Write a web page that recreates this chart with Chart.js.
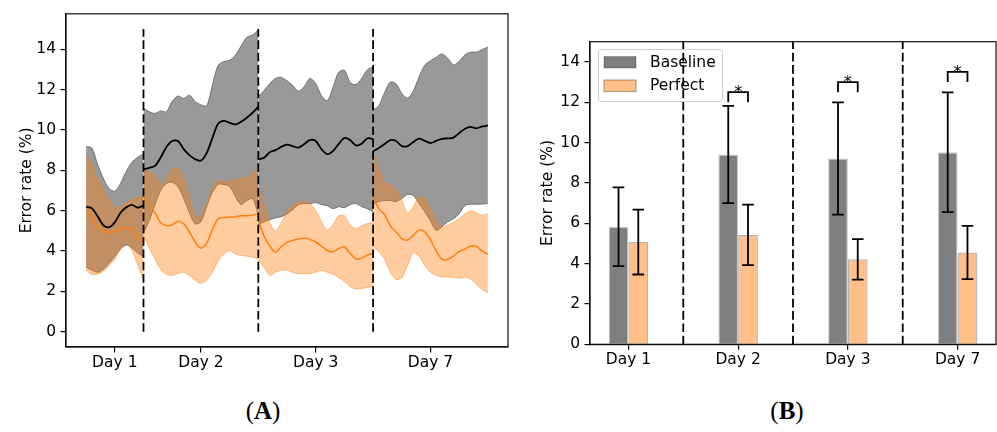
<!DOCTYPE html>
<html>
<head>
  <meta charset="UTF-8" />
  <title>Error rate per day</title>
  <script src="https://cdn.jsdelivr.net/npm/chart.js@4.4.0/dist/chart.umd.min.js"></script>
  <style>
    body{margin:0;background:#fff}
    #page{position:relative;width:997px;height:432px;overflow:hidden;background:#fff}
    #wrapA{position:absolute;left:0;top:0}
    #wrapB{position:absolute;left:520px;top:0}
    canvas{display:block}
    .tag{position:absolute;top:396px;width:100px;text-align:center;font-family:"Liberation Serif",serif;font-size:25px;line-height:30px;color:#000}
  </style>
</head>
<body>
<div id="page">
  <div id="wrapA"><canvas id="chartA" width="520" height="385"></canvas></div>
  <div id="wrapB"><canvas id="chartB" width="477" height="385"></canvas></div>
  <div class="tag" style="left:213px">(<b>A</b>)</div>
  <div class="tag" style="left:737px">(<b>B</b>)</div>
</div>
<script>
const dayLabels = ['Day 1', 'Day 2', 'Day 3', 'Day 7'];
const yTicks = [0, 2, 4, 6, 8, 10, 12, 14];

// (A) smoothed error rate over each session, one row per day block
const dayStart = [0, 0.5, 1.5, 2.5];   // left edge of every block on the x axis
const sampleStep = 0.05;
const dayCentres = [0.25, 1, 2, 3];
const dayEdges = [0.5, 1.5, 2.5];
const edgeTop = 15;

const baseMean = [
  [6.19, 6.12, 5.72, 5.28, 5.18, 5.42, 5.9, 6.17, 6.29, 6.15, 6.25],
  [8.05, 8.12, 8.22, 8.63, 9.15, 9.45, 9.45, 9.05, 8.75, 8.55, 8.48, 8.85, 9.6, 10.3, 10.45, 10.35, 10.27, 10.4, 10.6, 10.85, 11.15],
  [8.55, 8.62, 8.9, 9.0, 9.16, 9.27, 9.2, 9.12, 9.3, 9.5, 9.45, 9.05, 8.8, 8.95, 9.3, 9.6, 9.5, 9.23, 9.32, 9.58, 9.56],
  [8.94, 9.1, 9.3, 9.5, 9.45, 9.2, 9.2, 9.4, 9.57, 9.46, 9.35, 9.46, 9.56, 9.58, 9.62, 9.84, 10.06, 10.15, 10.08, 10.17, 10.22]
];
const baseUpper = [
  [9.18, 9.1, 8.3, 7.6, 7.1, 6.97, 7.35, 7.95, 8.4, 8.65, 8.8],
  [11.07, 10.9, 10.82, 10.94, 10.9, 11.42, 11.68, 11.56, 11.72, 11.4, 11.24, 11.2, 12.2, 13.2, 13.38, 13.45, 13.7, 14.15, 14.59, 14.7, 14.95],
  [11.64, 11.95, 12.3, 12.55, 12.6, 12.43, 12.2, 11.92, 12.15, 12.55, 12.3, 11.7, 11.45, 12.1, 12.85, 12.95, 12.35, 12.25, 12.54, 12.98, 13.12],
  [10.99, 11.2, 11.85, 12.37, 12.28, 11.8, 11.58, 11.92, 12.62, 13.2, 13.42, 13.6, 13.76, 13.55, 13.22, 13.4, 13.72, 13.85, 13.85, 13.98, 14.1]
];
const baseLower = [
  [3.2, 3.05, 2.95, 3.1, 3.4, 3.75, 4.1, 4.3, 4.15, 3.9, 3.7],
  [4.9, 5.5, 6.3, 7.0, 7.35, 7.4, 7.2, 6.6, 5.9, 5.35, 5.45, 6.2, 6.9, 7.3, 7.3, 7.2, 6.7, 6.3, 6.5, 6.6, 5.8],
  [5.3, 5.45, 5.55, 5.65, 5.7, 5.85, 6.05, 6.3, 6.35, 6.35, 6.4, 6.3, 6.25, 6.1, 6.2, 6.15, 6.3, 6.35, 6.2, 6.1, 5.95],
  [6.3, 6.45, 6.5, 6.5, 6.45, 6.6, 6.8, 6.75, 6.35, 5.95, 5.5, 5.02, 5.2, 5.45, 5.6, 5.85, 6.25, 6.32, 6.32, 6.33, 6.35]
];
const perfMean = [
  [6.07, 5.65, 5.2, 5.0, 4.93, 4.97, 5.12, 5.15, 5.08, 4.65, 4.38],
  [6.65, 6.35, 5.9, 5.4, 5.26, 5.3, 5.48, 5.35, 4.95, 4.45, 4.15, 4.4, 5.05, 5.6, 5.66, 5.68, 5.7, 5.75, 5.75, 5.78, 5.85],
  [5.6, 4.75, 4.25, 3.95, 4.22, 4.43, 4.53, 4.6, 4.65, 4.58, 4.45, 4.25, 4.03, 3.97, 4.13, 4.2, 3.88, 3.62, 3.65, 3.8, 3.9],
  [6.65, 6.1, 5.8, 5.25, 4.95, 4.62, 4.55, 4.78, 5.05, 4.95, 4.55, 4.0, 3.6, 3.58, 3.75, 3.98, 4.1, 4.25, 4.23, 4.0, 3.83]
];
const perfUpper = [
  [8.78, 8.25, 7.6, 7.0, 6.5, 6.15, 6.22, 6.4, 6.55, 6.65, 6.73],
  [8.05, 7.95, 7.7, 7.3, 7.55, 8.05, 8.1, 7.6, 6.6, 5.7, 5.75, 6.35, 7.1, 7.5, 7.42, 7.45, 7.55, 7.55, 7.65, 7.85, 8.05],
  [7.2, 6.3, 5.4, 5.0, 5.4, 5.9, 6.25, 6.4, 6.48, 6.35, 6.0, 5.45, 5.05, 5.3, 5.75, 5.75, 5.3, 5.1, 5.25, 5.36, 5.42],
  [8.86, 7.95, 7.42, 7.28, 7.0, 6.5, 5.9, 6.2, 6.7, 6.55, 6.05, 5.5, 5.15, 5.3, 5.42, 5.6, 5.85, 6.0, 5.9, 5.78, 5.83]
];
const perfLower = [
  [3.05, 2.85, 2.85, 3.0, 3.3, 3.6, 4.1, 4.4, 4.0, 3.3, 2.6],
  [4.76, 4.15, 3.6, 3.1, 2.85, 2.8, 2.9, 2.95, 2.78, 2.55, 2.4, 2.55, 2.95, 3.5, 3.85, 4.03, 3.85, 3.78, 3.75, 3.7, 3.6],
  [3.55, 3.2, 2.8, 2.95, 3.05, 3.05, 2.95, 2.88, 2.88, 2.88, 2.95, 3.05, 2.95, 2.85, 2.68, 2.5, 2.25, 2.12, 2.15, 2.2, 2.25],
  [4.27, 3.95, 3.6, 2.95, 2.6, 2.68, 3.3, 3.9, 3.75, 3.3, 2.95, 2.8, 2.72, 2.72, 2.7, 2.66, 2.7, 2.62, 2.35, 2.1, 1.95]
];

// (B) mean error rate per day with standard deviation
const dayIndex = [0, 1, 2, 3];
const baseBar = [5.83, 9.41, 9.21, 9.52];
const baseSd = [1.95, 2.41, 2.78, 2.97];
const perfBar = [5.07, 5.42, 4.21, 4.55];
const perfSd = [1.61, 1.5, 1.0, 1.32];
const sigLow = [null, 12, 12.5, 13];
const sigHigh = [null, 12.5, 13, 13.5];

Chart.defaults.font.family = '"DejaVu Sans", sans-serif';
Chart.defaults.font.size = 15.5;
Chart.defaults.color = '#000';

const GRAY_FILL = 'rgba(128,128,128,0.8)';
const GRAY_EDGE = 'rgba(100,100,100,0.85)';
const ORANGE = '#ff7f0e';
const ORANGE_FILL = 'rgba(255,127,14,0.4)';
const ORANGE_EDGE = 'rgba(255,127,14,0.45)';

function pts(vals, d) {
  return vals.map((v, i) => ({ x: dayStart[d] + i * sampleStep, y: v }));
}

function line(data, extra) {
  return Object.assign({ type: 'line', data, pointRadius: 0, tension: 0.3, fill: false, borderJoinStyle: 'round' }, extra);
}

function dashed(x) {
  return line([{ x, y: 0 }, { x, y: edgeTop }], { borderColor: '#000', borderWidth: 1.8, borderDash: [8.6, 3.7], tension: 0, order: 5 });
}

// spines on all four sides
const framePlugin = {
  id: 'frame',
  afterDatasetsDraw(chart) {
    const { ctx, chartArea: a } = chart;
    ctx.save();
    ctx.strokeStyle = '#111';
    ctx.lineWidth = 1.2;
    ctx.strokeRect(a.left, a.top, a.right - a.left, a.bottom - a.top);
    ctx.restore();
  }
};

function yAxis(min, max, width, titlePad) {
  return {
    min, max,
    afterBuildTicks: s => { s.ticks = yTicks.map(v => ({ value: v })); },
    afterFit: s => { s.width = width; },
    ticks: { padding: 4.5, color: '#000' },
    grid: { drawOnChartArea: false, tickLength: 5.5, color: '#000', lineWidth: 1.2 },
    border: { color: '#111', width: 1.2 },
    title: { display: true, text: 'Error rate (%)', color: '#000', padding: { top: titlePad, bottom: 0 } }
  };
}

function xAxis(min, max, at, height) {
  return {
    type: 'linear', min, max, offset: false,
    afterBuildTicks: s => { s.ticks = at.map(v => ({ value: v })); },
    afterFit: s => { s.height = height; },
    ticks: { callback: (v, i) => dayLabels[i], autoSkip: false, maxRotation: 0, padding: 1, color: '#000' },
    grid: { drawOnChartArea: false, offset: false, tickLength: 5.5, color: '#000', lineWidth: 1.2 },
    border: { color: '#111', width: 1.2 }
  };
}

// ---------- panel A ----------
const dsA = [];
for (let d = 0; d < dayStart.length; d++) {
  dsA.push(line(pts(baseUpper[d], d), { fill: '+1', backgroundColor: GRAY_FILL, borderColor: GRAY_EDGE, borderWidth: 1, order: 50 }));
  dsA.push(line(pts(baseLower[d], d), { borderColor: GRAY_EDGE, borderWidth: 1, order: 49 }));
}
for (let d = 0; d < dayStart.length; d++) {
  dsA.push(line(pts(perfUpper[d], d), { fill: '+1', backgroundColor: ORANGE_FILL, borderColor: ORANGE_EDGE, borderWidth: 1, order: 30 }));
  dsA.push(line(pts(perfLower[d], d), { borderColor: ORANGE_EDGE, borderWidth: 1, order: 29 }));
}
for (let d = 0; d < dayStart.length; d++) {
  dsA.push(line(pts(baseMean[d], d), { borderColor: '#000', borderWidth: 1.8, order: 20 }));
  dsA.push(line(pts(perfMean[d], d), { borderColor: ORANGE, borderWidth: 1.5, order: 15 }));
}
dayEdges.forEach(x => dsA.push(dashed(x)));

new Chart(document.getElementById('chartA'), {
  type: 'line',
  data: { datasets: dsA },
  options: {
    responsive: false, animation: false, events: [],
    layout: { padding: { top: 11, right: 12, left: 0, bottom: 0 } },
    plugins: { legend: { display: false }, tooltip: { enabled: false } },
    scales: {
      x: xAxis(-0.175, 3.675, dayCentres, 38),
      y: yAxis(-0.75, 15.75, 66, 17.7)
    }
  },
  plugins: [framePlugin]
});

// ---------- panel B ----------
const barOpts = { categoryPercentage: 0.36, barPercentage: 1, borderWidth: 1.2, order: 20 };
const dsB = [
  Object.assign({ type: 'bar', label: 'Baseline', data: dayIndex.map(i => ({ x: i, y: baseBar[i] })),
    backgroundColor: 'rgba(0,0,0,0.5)', borderColor: 'rgba(0,0,0,0.22)' }, barOpts),
  Object.assign({ type: 'bar', label: 'Perfect', data: dayIndex.map(i => ({ x: i, y: perfBar[i] })),
    backgroundColor: 'rgba(255,127,14,0.5)', borderColor: 'rgba(0,0,0,0.3)' }, barOpts)
];
dayEdges.forEach(x => dsB.push(dashed(x)));

const legendB = {
  id: 'legendB',
  beforeDatasetsDraw(chart) {
    const { ctx, chartArea: a } = chart;
    const x0 = a.left + 8.5, y0 = a.top + 7.8;
    ctx.save();
    ctx.beginPath();
    ctx.roundRect(x0, y0, 124, 52, 3);
    ctx.fillStyle = 'rgba(255,255,255,0.8)';
    ctx.fill();
    ctx.strokeStyle = '#cccccc';
    ctx.lineWidth = 1;
    ctx.stroke();
    chart.data.datasets.slice(0, 2).forEach((ds, i) => {
      const py = y0 + 7 + i * 23.5;
      ctx.fillStyle = '#fff';
      ctx.fillRect(x0 + 5.5, py, 32, 11.5);
      ctx.fillStyle = ds.backgroundColor;
      ctx.fillRect(x0 + 5.5, py, 32, 11.5);
      ctx.strokeStyle = ds.borderColor;
      ctx.lineWidth = 1.2;
      ctx.strokeRect(x0 + 5.5, py, 32, 11.5);
      ctx.fillStyle = '#000';
      ctx.font = '15.5px "DejaVu Sans", sans-serif';
      ctx.textBaseline = 'middle';
      ctx.fillText(ds.label, x0 + 51.5, py + 6);
    });
    ctx.restore();
  }
};

// standard deviation whiskers and significance brackets
const whiskers = {
  id: 'whiskers',
  afterDatasetsDraw(chart) {
    const { ctx } = chart;
    const ys = chart.scales.y;
    const spreads = [baseSd, perfSd];
    const means = [baseBar, perfBar];
    ctx.save();
    ctx.strokeStyle = '#000';
    ctx.lineWidth = 1.8;
    [0, 1].forEach(k => {
      chart.getDatasetMeta(k).data.forEach((bar, i) => {
        const hi = ys.getPixelForValue(means[k][i] + spreads[k][i]);
        const lo = ys.getPixelForValue(means[k][i] - spreads[k][i]);
        ctx.beginPath();
        ctx.moveTo(bar.x, hi); ctx.lineTo(bar.x, lo);
        ctx.moveTo(bar.x - 5.8, hi); ctx.lineTo(bar.x + 5.8, hi);
        ctx.moveTo(bar.x - 5.8, lo); ctx.lineTo(bar.x + 5.8, lo);
        ctx.stroke();
      });
    });
    const left = chart.getDatasetMeta(0).data, right = chart.getDatasetMeta(1).data;
    ctx.font = '16px "DejaVu Sans", sans-serif';
    ctx.textAlign = 'center';
    ctx.textBaseline = 'alphabetic';
    ctx.fillStyle = '#000';
    sigLow.forEach((low, i) => {
      if (low === null) return;
      const y1 = ys.getPixelForValue(low), y2 = ys.getPixelForValue(sigHigh[i]);
      ctx.beginPath();
      ctx.moveTo(left[i].x, y1); ctx.lineTo(left[i].x, y2);
      ctx.lineTo(right[i].x, y2); ctx.lineTo(right[i].x, y1);
      ctx.stroke();
      ctx.fillText('*', (left[i].x + right[i].x) / 2, y2 + 5);
    });
    ctx.restore();
  }
};

new Chart(document.getElementById('chartB'), {
  type: 'bar',
  data: { datasets: dsB },
  options: {
    responsive: false, animation: false, events: [],
    layout: { padding: { top: 41.7, right: 1, left: 0, bottom: 0 } },
    plugins: { legend: { display: false }, tooltip: { enabled: false } },
    scales: {
      x: xAxis(-0.35, 3.35, dayIndex, 40.7),
      y: yAxis(0, 15, 70, 19)
    }
  },
  plugins: [legendB, whiskers, framePlugin]
});
</script>
</body>
</html>
